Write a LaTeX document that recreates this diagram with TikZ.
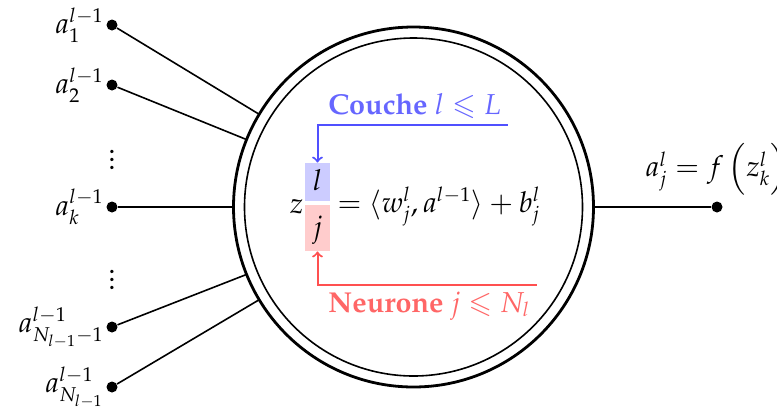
\documentclass[tikz,border=0pt]{standalone}
\usepackage[T1]{fontenc}
\usepackage{mathpazo}
\usepackage{amsmath,amssymb}
\definecolor{arrblue}{RGB}{80,80,255}
\definecolor{arrred}{RGB}{255,80,80}
\begin{document}
\begin{tikzpicture}[x=0.5pt,y=-0.5pt,
  font=\fontsize{14.4}{17.28}\selectfont,
  dot/.style={circle,fill=black,inner sep=0pt,minimum size=5.5pt},
  conn/.style={line width=0.8pt},
  lbl/.style={inner sep=1pt},
  eq/.style={inner sep=0pt},
  tagtxt/.style={inner sep=3pt},
  bluearrow/.style={draw=arrblue,line width=1pt,->},
  redarrow/.style={draw=arrred,line width=1pt,->}]
\clip (0,0) rectangle (777,408);
% neuron
\node[circle,draw,line width=1.4pt,inner sep=0pt,outer sep=0pt,minimum size=180pt] (outer) at (413.5,207) {};
\node[circle,draw,line width=0.8pt,inner sep=0pt,outer sep=0pt,minimum size=169pt] (inner) at (413.5,207) {};
% inputs
\node[dot,label={[lbl]left:$a_1^{l-1}$}] (i1) at (112,25) {};
\node[dot,label={[lbl]left:$a_2^{l-1}$}] (i2) at (112,85) {};
\node[inner sep=0pt] (v1) at (112,154) {$\vdots$};
\node[dot,label={[lbl]left:$a_k^{l-1}$}] (ik) at (112,207) {};
\node[inner sep=0pt] (v2) at (112,274) {$\vdots$};
\node[dot,label={[lbl]left:$a_{N_{l-1}-1}^{l-1}$}] (in1) at (112,327) {};
\node[dot,label={[lbl]left:$a_{N_{l-1}}^{l-1}$}] (in) at (112,387) {};
\draw[conn] (i1) -- (outer.149);
\draw[conn] (i2) -- (outer.158);
\draw[conn] (ik) -- (outer.180);
\draw[conn] (in1) -- (outer.202);
\draw[conn] (in) -- (outer.211);
% output
\node[dot,label={[lbl,label distance=1pt]above:$a_j^l = f\,\Bigl(z_k^l\Bigr)$}] (o) at (717,207) {};
\draw[conn] (outer.east) -- (o);
% equation
\node[eq,anchor=base east] (z) at (304,213) {$z$};
\node[eq,anchor=base,fill=blue!20,minimum width=12.5pt,text height=13.5pt,text depth=5.5pt] (lbox) at (317.5,190) {$l$};
\node[eq,anchor=base,fill=red!20,minimum width=12.5pt,text height=15.5pt,text depth=7.5pt] (jbox) at (317.5,236) {$j$};
\node[eq,anchor=base west] (rhs) at (337,212) {$= \langle w_j^l, a^{l-1}\rangle + b_j^l$};
% tags
\node[tagtxt,anchor=base west,text=blue!60] (couche) at (322,114.5) {\textbf{Couche} $l \leqslant L$};
\node[tagtxt,anchor=base west,text=red!60] (neurone) at (322,312) {\textbf{Neurone} $j \leqslant N_l$};
\draw[bluearrow] (couche.south east) -| (lbox.north);
\draw[redarrow] (neurone.north east) -| (jbox.south);
\end{tikzpicture}
\end{document}
